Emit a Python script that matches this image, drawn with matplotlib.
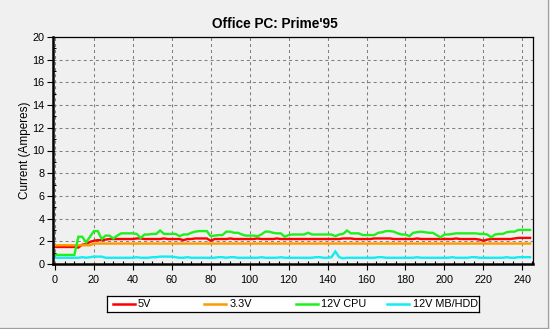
import numpy as np
import matplotlib
matplotlib.use("Agg")
import matplotlib.pyplot as plt
from matplotlib.lines import Line2D
from matplotlib.ticker import MultipleLocator

plt.rcParams['font.family'] = ['Liberation Sans', 'DejaVu Sans']

# sample clock (seconds), one reading every 2 s
seconds = np.arange(0, 245, 2)

# current readings in amperes
rail_5v = [
    1.5, 1.5, 1.5, 1.5, 1.5, 1.5, 1.45, 1.7, 1.75, 1.95,
    2.05, 2.1, 2.1, 2.15, 2.2, 2.2, 2.2, 2.2, 2.2, 2.2,
    2.2, 2.25, 2.25, 2.2, 2.2, 2.2, 2.2, 2.2, 2.25, 2.2,
    2.2, 2.2, 2.2, 2.1, 2.2, 2.2, 2.25, 2.25, 2.25, 2.25,
    2.05, 2.2, 2.2, 2.2, 2.2, 2.25, 2.2, 2.2, 2.2, 2.2,
    2.2, 2.2, 2.25, 2.2, 2.2, 2.2, 2.2, 2.25, 2.2, 2.2,
    2.2, 2.2, 2.2, 2.2, 2.2, 2.2, 2.2, 2.2, 2.2, 2.2,
    2.2, 2.2, 2.2, 2.2, 2.25, 2.25, 2.25, 2.2, 2.2, 2.2,
    2.2, 2.2, 2.25, 2.25, 2.25, 2.25, 2.25, 2.2, 2.2, 2.2,
    2.2, 2.2, 2.2, 2.25, 2.2, 2.2, 2.2, 2.2, 2.2, 2.2,
    2.2, 2.2, 2.2, 2.25, 2.2, 2.2, 2.2, 2.2, 2.2, 2.15,
    2.05, 2.15, 2.2, 2.2, 2.2, 2.2, 2.2, 2.2, 2.25, 2.3,
    2.3, 2.3, 2.3,
]

rail_3v3 = [
    1.65, 1.65, 1.65, 1.65, 1.65, 1.65, 1.65, 1.65, 1.65, 1.65,
    1.8, 1.8, 1.8, 1.8, 1.8, 1.8, 1.8, 1.8, 1.8, 1.8,
    1.8, 1.8, 1.8, 1.8, 1.8, 1.8, 1.8, 1.8, 1.8, 1.8,
    1.8, 1.8, 1.8, 1.8, 1.8, 1.8, 1.8, 1.8, 1.8, 1.8,
    1.8, 1.8, 1.8, 1.8, 1.8, 1.8, 1.8, 1.8, 1.8, 1.8,
    1.8, 1.8, 1.8, 1.8, 1.8, 1.8, 1.8, 1.8, 1.8, 1.8,
    1.8, 1.8, 1.8, 1.8, 1.8, 1.8, 1.8, 1.8, 1.8, 1.8,
    1.8, 1.8, 1.8, 1.8, 1.8, 1.8, 1.8, 1.8, 1.8, 1.8,
    1.8, 1.8, 1.8, 1.8, 1.8, 1.8, 1.8, 1.8, 1.8, 1.8,
    1.8, 1.8, 1.8, 1.8, 1.8, 1.8, 1.8, 1.8, 1.8, 1.8,
    1.8, 1.8, 1.8, 1.8, 1.8, 1.8, 1.8, 1.8, 1.8, 1.8,
    1.8, 1.8, 1.8, 1.8, 1.8, 1.8, 1.8, 1.8, 1.8, 1.8,
    1.8, 1.8, 1.8,
]

rail_12v_cpu = [
    0.8, 0.8, 0.8, 0.8, 0.8, 0.8, 2.4, 2.4, 1.9, 2.4,
    2.9, 2.9, 2.2, 2.5, 2.5, 2.25, 2.5, 2.7, 2.7, 2.7,
    2.7, 2.65, 2.3, 2.6, 2.6, 2.65, 2.65, 2.95, 2.65, 2.65,
    2.65, 2.65, 2.45, 2.6, 2.6, 2.75, 2.85, 2.9, 2.9, 2.9,
    2.45, 2.5, 2.55, 2.55, 2.85, 2.85, 2.75, 2.75, 2.6, 2.5,
    2.5, 2.5, 2.45, 2.6, 2.85, 2.85, 2.75, 2.7, 2.7, 2.4,
    2.55, 2.6, 2.6, 2.6, 2.6, 2.75, 2.6, 2.6, 2.6, 2.6,
    2.6, 2.6, 2.45, 2.6, 2.65, 2.95, 2.7, 2.7, 2.7, 2.55,
    2.55, 2.55, 2.55, 2.75, 2.8, 2.9, 2.9, 2.85, 2.7, 2.6,
    2.6, 2.45, 2.75, 2.8, 2.85, 2.8, 2.75, 2.75, 2.55, 2.35,
    2.6, 2.6, 2.65, 2.7, 2.7, 2.7, 2.7, 2.7, 2.7, 2.65,
    2.65, 2.6, 2.35, 2.6, 2.65, 2.65, 2.8, 2.85, 2.85, 3.0,
    3.0, 3.0, 3.0,
]

rail_12v_mb = [
    0.55, 0.55, 0.55, 0.55, 0.55, 0.55, 0.55, 0.6, 0.55, 0.6,
    0.65, 0.65, 0.65, 0.55, 0.55, 0.55, 0.55, 0.55, 0.55, 0.55,
    0.55, 0.6, 0.55, 0.55, 0.55, 0.6, 0.6, 0.65, 0.65, 0.65,
    0.65, 0.6, 0.55, 0.55, 0.6, 0.55, 0.55, 0.55, 0.55, 0.55,
    0.55, 0.55, 0.6, 0.6, 0.55, 0.6, 0.6, 0.55, 0.55, 0.55,
    0.55, 0.55, 0.55, 0.6, 0.55, 0.55, 0.55, 0.55, 0.6, 0.55,
    0.55, 0.55, 0.55, 0.55, 0.55, 0.55, 0.55, 0.6, 0.6, 0.55,
    0.55, 0.6, 1.1, 0.6, 0.5, 0.55, 0.55, 0.55, 0.55, 0.55,
    0.55, 0.55, 0.55, 0.6, 0.6, 0.55, 0.55, 0.55, 0.55, 0.55,
    0.55, 0.55, 0.55, 0.6, 0.55, 0.55, 0.55, 0.55, 0.55, 0.55,
    0.55, 0.55, 0.6, 0.55, 0.55, 0.55, 0.55, 0.6, 0.6, 0.55,
    0.55, 0.55, 0.55, 0.55, 0.55, 0.55, 0.6, 0.55, 0.55, 0.6,
    0.6, 0.6, 0.6,
]

series_names = ["5V", "3.3V", "12V CPU", "12V MB/HDD"]
series_values = [rail_5v, rail_3v3, rail_12v_cpu, rail_12v_mb]
series_colors = ["#ff0000", "#ff9900", "#1ef01e", "#12ecf2"]

bg = "#f0f0f0"
W, H = 550, 329

fig = plt.figure(figsize=(W / 100, H / 100), dpi=100, facecolor=bg)
ax = fig.add_axes([53 / W, 1 - 264 / H, 480 / W, 227 / H])
ax.set_facecolor(bg)

for name, vals, col in zip(series_names, series_values, series_colors):
    ax.plot(seconds, vals, color=col, lw=1.7, label=name, solid_joinstyle="miter")

ax.set_xlim(-1, 245.5)
ax.set_ylim(0, 20)
ax.xaxis.set_major_locator(MultipleLocator(20))
ax.xaxis.set_minor_locator(MultipleLocator(5))
ax.yaxis.set_major_locator(MultipleLocator(2))
ax.yaxis.set_minor_locator(MultipleLocator(1))
ax.tick_params(which="major", direction="out", length=4, width=0.8, labelsize=7.8, pad=2)
ax.tick_params(which="minor", direction="in", length=2.5, width=0.8)
ax.tick_params(axis="x", which="major", pad=4)
ax.grid(True, which="major", color="#808080", lw=0.75, linestyle=(0, (2.9, 2.9)))
ax.set_axisbelow(True)

for side in ["left", "bottom"]:
    ax.spines[side].set_linewidth(1.8)
for side in ["top", "right"]:
    ax.spines[side].set_linewidth(0.9)

ax.set_ylabel("Current (Amperes)", fontsize=8.5, labelpad=1)
fig.text(0.5, 1 - 24 / H, "Office PC: Prime'95", ha="center", va="center",
         fontsize=9.8, fontweight="bold")

# legend drawn as its own little panel below the plot
lax = fig.add_axes([107 / W, 1 - 312 / H, 372 / W, 16 / H])
lax.set_facecolor("white")
lax.set_xlim(0, 372)
lax.set_ylim(0, 1)
lax.set_xticks([])
lax.set_yticks([])
for s in lax.spines.values():
    s.set_linewidth(0.9)
for i, (name, col) in enumerate(zip(series_names, series_colors)):
    x0 = 5.5 + i * 91.5
    lax.plot([x0, x0 + 22], [0.5, 0.5], color=col, lw=1.8)
    lax.text(x0 + 25.5, 0.5, name, va="center", ha="left", fontsize=7.8)

# panel edge on the right and bottom
fig.add_artist(Line2D([547.5 / W, 547.5 / W], [1 - 327.5 / H, 1], transform=fig.transFigure,
                      color="#a0a0a0", lw=0.9))
fig.add_artist(Line2D([0, 547.5 / W], [1 - 327.5 / H, 1 - 327.5 / H], transform=fig.transFigure,
                      color="#a0a0a0", lw=0.9))

fig.savefig("out.png", dpi=100, facecolor=bg)
